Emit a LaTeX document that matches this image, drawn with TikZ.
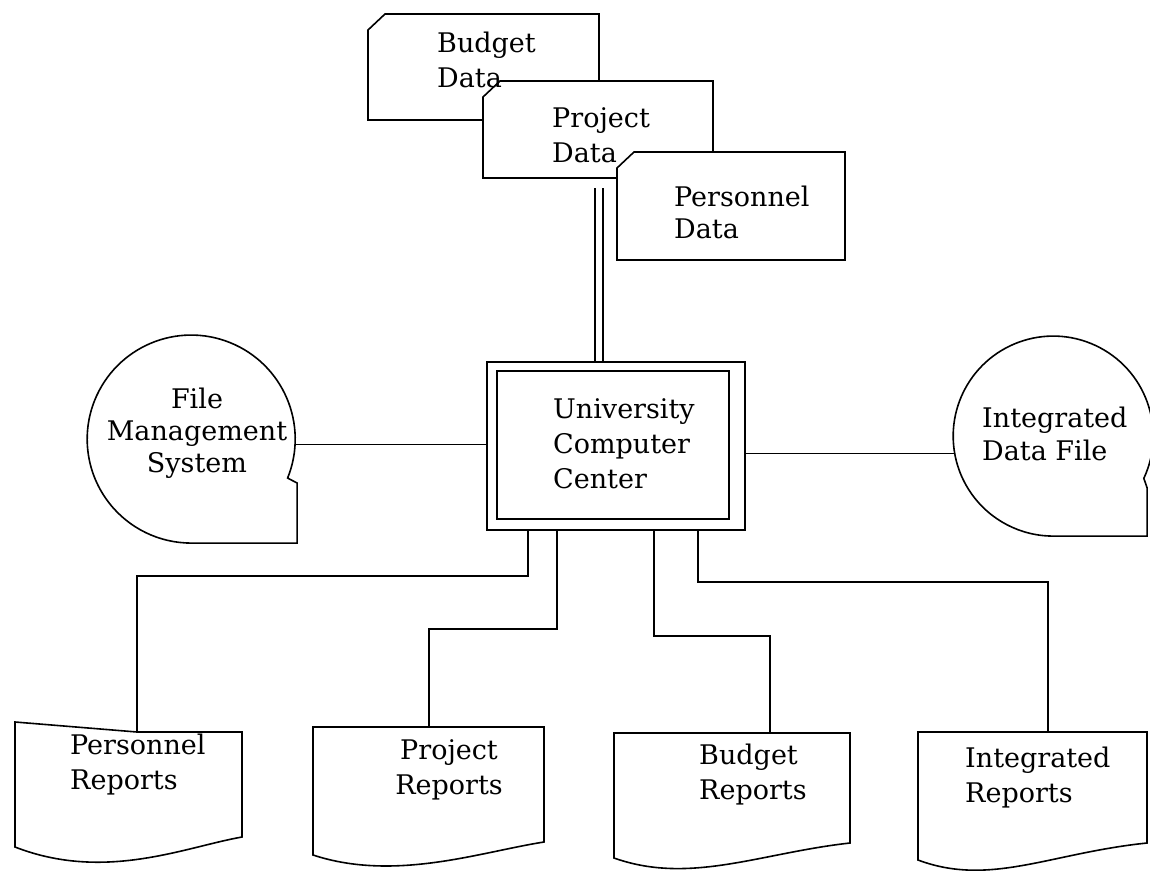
\documentclass[tikz,border=0pt]{standalone}
\usepackage{fontspec}
\setmainfont{DejaVu Serif}
\usetikzlibrary{calc}
\begin{document}
\begin{tikzpicture}[x=1pt,y=-1pt,
  ln/.style={line width=1.6pt, black, line join=miter},
  card/.style={ln, fill=white},
  lbl/.style={font=\fontsize{27}{35}\selectfont, inner sep=0pt, align=left},
]
\useasboundingbox (0,0) rectangle (1150,870);
% input cards
\draw[card] (368,30) -- (385,14) -- (599,14) -- (599,120) -- (368,120) -- cycle;
\draw[card] (483,97) -- (500,81) -- (713,81) -- (713,178) -- (483,178) -- cycle;
\draw[card] (617,168) -- (634,152) -- (845,152) -- (845,260) -- (617,260) -- cycle;
\node[lbl, anchor=west] (tbud) at (437,60) {Budget\\Data};
\node[lbl, anchor=west] (tproj) at (552,135) {Project\\Data};
\node[lbl, anchor=west, font=\fontsize{27}{32}\selectfont] (tpers) at (674,212) {Personnel\\Data};
% central box
\node[ln, draw, minimum width=258pt, minimum height=168pt, inner sep=0pt] (ucc) at (616,446) {};
\draw[ln] ([shift={(11,10)}]ucc.north west) rectangle ([shift={(-17,-12)}]ucc.south east);
\node[lbl, anchor=west] (tucc) at (553,444) {University\\Computer\\Center};
\coordinate (pb) at (599,178);
\draw[ln, double distance=6pt] ([yshift=-10pt]pb) -- (pb |- ucc.north);
% file management system
\node[circle, minimum size=208pt, inner sep=0pt] (fms) at (191,439) {};
\draw[ln] (fms.-22) arc[start angle=-22, end angle=270, radius=104pt] -- ++(106pt,0pt) -- ++(0pt,60pt) -- cycle;
\node[lbl, align=center, font=\fontsize{27}{32}\selectfont] (tfms) at (197,433) {File\\Management\\System};
\draw[ln] (fms.-3) -- (fms.-3 -| ucc.west);
% integrated data file
\node[circle, minimum size=200pt, inner sep=0pt] (idf) at (1053,436) {};
\draw[ln] (idf.-25) arc[start angle=-25, end angle=270, radius=100pt] -- ++(94pt,0pt) -- ++(0pt,48pt) -- cycle;
\node[lbl, anchor=west, font=\fontsize{27}{33}\selectfont] (tidf) at (982,434) {Integrated\\Data File};
\draw[ln] (idf.190) -- (idf.190 -| ucc.east);
% reports
\draw[ln] (15,722) -- (137,732) -- (242,732) -- (242,837) .. controls (185,847) and (105,882) .. (15,847) -- cycle;
\coordinate (r1) at (137,732);
\node[lbl, anchor=west] (tr1) at (70,765) {Personnel\\Reports};
\draw[ln] (313,727) -- (544,727) -- (544,842) .. controls (480,852) and (395,882) .. (313,855) -- cycle;
\coordinate (r2) at (429,727);
\node[lbl, align=center] (tr2) at (449,770) {Project\\Reports};
\draw[ln] (614,733) -- (850,733) -- (850,843) .. controls (760,853) and (690,885) .. (614,858) -- cycle;
\coordinate (r3) at (770,733);
\node[lbl, anchor=west] (tr3) at (699,775) {Budget\\Reports};
\draw[ln] (918,732) -- (1147,732) -- (1147,843) .. controls (1050,853) and (990,887) .. (918,860) -- cycle;
\coordinate (r4) at (1048,732);
\node[lbl, anchor=west] (tr4) at (965,778) {Integrated\\Reports};
% connectors
\draw[ln] ([xshift=42pt]ucc.south west) -- ++(0,45) -| (r1);
\draw[ln] ([xshift=71pt]ucc.south west) -- ++(0,98) -| (r2);
\draw[ln] ([xshift=168pt]ucc.south west) -- ++(0,105) -| (r3);
\draw[ln] ([xshift=212pt]ucc.south west) -- ++(0,51) -| (r4);
\end{tikzpicture}
\end{document}
